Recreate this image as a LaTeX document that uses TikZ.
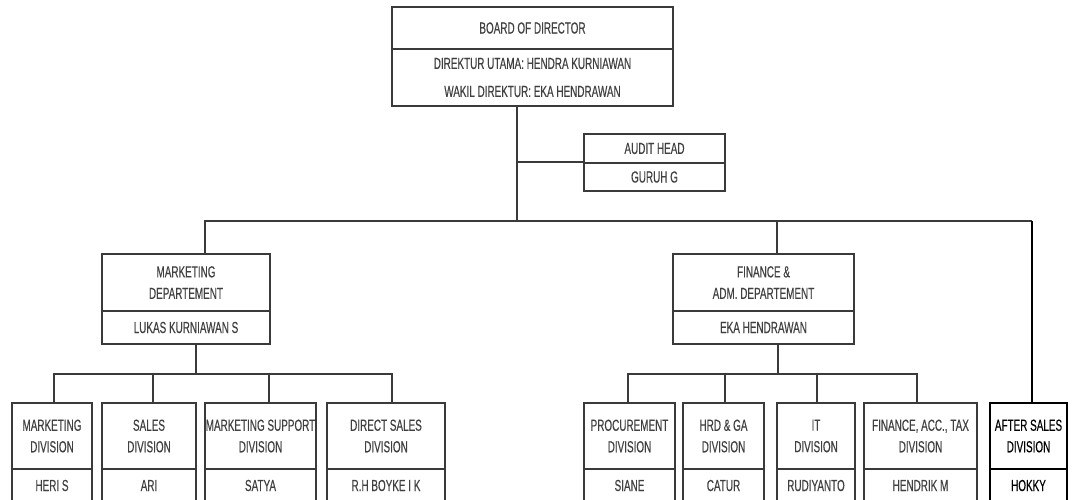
\documentclass[tikz,border=0pt]{standalone}
\usepackage{fontspec}
\setmainfont{Liberation Sans}[FakeStretch=0.62,FakeBold=0.3]
\definecolor{linec}{HTML}{3A3A3A}
\definecolor{textc}{HTML}{404040}
% \cellbox[options]{name}{x1}{y1}{x2}{y2}{text}
\newcommand\cellbox[7][]{%
  \node[cell,#1,minimum width={#5-#3},minimum height={#6-#4}]
    (#2) at ({(#3+#5)/2},{(#4+#6)/2}) {#7};}
\begin{document}
\begin{tikzpicture}[x=1pt,y=-1pt,
  cell/.style={draw=linec,line width=1.8pt,fill=white,inner sep=0pt,
    text=textc,align=center,font=\fontsize{16}{21.5}\selectfont},
  dark/.style={draw=black,text=black},
  link/.style={draw=linec,line width=1.8pt},
  darklink/.style={draw=black,line width=1.8pt}]
\useasboundingbox (0,0) rectangle (1075,499);
\clip (0,0) rectangle (1075,499);
\fill[white] (0,0) rectangle (1075,499);

% board and audit
\cellbox{board-t}{392}{7}{673}{49}{BOARD OF DIRECTOR}
\cellbox{board-p}{392}{49}{673}{106}{DIREKTUR UTAMA: HENDRA KURNIAWAN\\[6.5pt]WAKIL DIREKTUR: EKA HENDRAWAN}
\cellbox{audit-t}{584}{134}{725}{163}{AUDIT HEAD}
\cellbox{audit-p}{584}{163}{725}{191}{GURUH G}

% departments
\cellbox{mkt-t}{102}{254}{270}{311}{MARKETING\\DEPARTEMENT}
\cellbox{mkt-p}{102}{311}{270}{344}{LUKAS KURNIAWAN S}
\cellbox{fin-t}{673}{254}{854}{311}{FINANCE \&\\ADM. DEPARTEMENT}
\cellbox{fin-p}{673}{311}{854}{344}{EKA HENDRAWAN}

% marketing divisions
\cellbox{m1-t}{12}{403}{92}{469}{MARKETING\\DIVISION}
\cellbox{m1-p}{12}{469}{92}{502}{HERI S}
\cellbox{m2-t}{102}{403}{196}{469}{SALES\\DIVISION}
\cellbox{m2-p}{102}{469}{196}{502}{ARI}
\cellbox{m3-t}{205}{403}{316}{469}{MARKETING SUPPORT\\DIVISION}
\cellbox{m3-p}{205}{469}{316}{502}{SATYA}
\cellbox{m4-t}{327}{403}{445}{469}{DIRECT SALES\\DIVISION}
\cellbox{m4-p}{327}{469}{445}{502}{R.H BOYKE I K}

% finance divisions
\cellbox{f1-t}{584}{403}{675}{469}{PROCUREMENT\\DIVISION}
\cellbox{f1-p}{584}{469}{675}{502}{SIANE}
\cellbox{f2-t}{683}{403}{764}{469}{HRD \& GA\\DIVISION}
\cellbox{f2-p}{683}{469}{764}{502}{CATUR}
\cellbox{f3-t}{777}{403}{855}{469}{IT\\DIVISION}
\cellbox{f3-p}{777}{469}{855}{502}{RUDIYANTO}
\cellbox{f4-t}{864}{403}{977}{469}{FINANCE, ACC., TAX\\DIVISION}
\cellbox{f4-p}{864}{469}{977}{502}{HENDRIK M}

% after sales
\cellbox[dark]{as-t}{990}{403}{1067}{469}{AFTER SALES\\DIVISION}
\cellbox[dark]{as-p}{990}{469}{1067}{502}{HOKKY}

% junction points
\coordinate (jTop) at (517,221);
\coordinate (jMkt) at (205,221);
\coordinate (jFin) at (777,221);
\coordinate (jAs)  at (1032,221);
\coordinate (sM)  at (196,374);
\coordinate (dM1) at (54,374);
\coordinate (dM2) at (153,374);
\coordinate (dM3) at (269,374);
\coordinate (dM4) at (392,374);
\coordinate (sF)  at (778,374);
\coordinate (dF1) at (628,374);
\coordinate (dF2) at (725,374);
\coordinate (dF3) at (817,374);
\coordinate (dF4) at (917,374);

% top level connectors
\draw[link] (board-p.south -| jTop) -- (jTop);
\draw[link] (jTop |- audit-p.north west) -- (audit-p.north west);
\draw[link] (jMkt |- mkt-t.north) -- (jMkt) -- (jAs);
\draw[link] (jFin) -- (jFin |- fin-t.north);
\draw[darklink] (jAs) -- (jAs |- as-t.north);

% marketing branch
\draw[link] (mkt-p.south -| sM) -- (sM);
\draw[link] (dM1 |- m1-t.north) -- (dM1) -- (dM4) -- (dM4 |- m4-t.north);
\draw[link] (dM2) -- (dM2 |- m2-t.north);
\draw[link] (dM3) -- (dM3 |- m3-t.north);

% finance branch
\draw[link] (fin-p.south -| sF) -- (sF);
\draw[link] (dF1 |- f1-t.north) -- (dF1) -- (dF4) -- (dF4 |- f4-t.north);
\draw[link] (dF2) -- (dF2 |- f2-t.north);
\draw[link] (dF3) -- (dF3 |- f3-t.north);
\end{tikzpicture}
\end{document}
